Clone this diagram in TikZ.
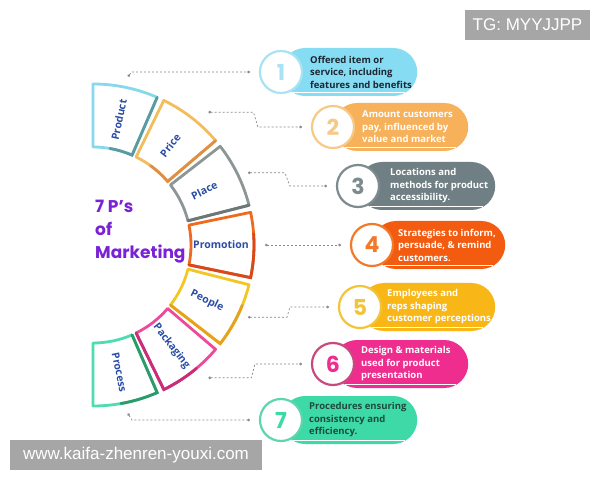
\documentclass[tikz,border=0pt]{standalone}
\usepackage{fontspec}
\setmainfont{Open Sans}
\newfontfamily\titlefont{Poppins}
\newfontfamily\wmfont{Liberation Sans}
\usetikzlibrary{arrows.meta}

\definecolor{labelblue}{HTML}{2A4DA6}
\definecolor{titlepurple}{HTML}{7A22D6}
\definecolor{connGray}{HTML}{8A8A8A}
\definecolor{wmGray}{HTML}{A6A6A6}
\definecolor{prodLight}{HTML}{86D9EC}
\definecolor{prodDark}{HTML}{5B9B9F}
\definecolor{priceLight}{HTML}{F4BD5C}
\definecolor{priceDark}{HTML}{E08E45}
\definecolor{placeLight}{HTML}{8C9696}
\definecolor{placeDark}{HTML}{6D7777}
\definecolor{promoLight}{HTML}{EF6A1F}
\definecolor{promoDark}{HTML}{D9481A}
\definecolor{peopleLight}{HTML}{F4C623}
\definecolor{peopleDark}{HTML}{E5A21C}
\definecolor{packLight}{HTML}{EE4A9A}
\definecolor{packDark}{HTML}{C92D78}
\definecolor{procLight}{HTML}{4FDCB0}
\definecolor{procDark}{HTML}{2E9A6C}
\definecolor{bodyA}{HTML}{86DCF2}
\definecolor{bodyB}{HTML}{F6B15A}
\definecolor{bodyC}{HTML}{6F7F83}
\definecolor{bodyD}{HTML}{F35B10}
\definecolor{bodyE}{HTML}{F8B716}
\definecolor{bodyF}{HTML}{EE2D8F}
\definecolor{bodyG}{HTML}{3DDAA8}
\definecolor{ringA}{HTML}{A9E2F2}
\definecolor{ringB}{HTML}{F7C987}
\definecolor{ringC}{HTML}{7D8B8E}
\definecolor{ringD}{HTML}{F07A2A}
\definecolor{ringE}{HTML}{F2C43A}
\definecolor{ringF}{HTML}{C9497E}
\definecolor{ringG}{HTML}{5FD5AD}
\definecolor{darktext}{HTML}{1B2733}
\definecolor{greentext}{HTML}{1E4A3C}

\begin{document}
\begin{tikzpicture}[x=1pt,y=1pt,
  seg/.style={line width=2.8pt, fill=white, line join=round},
  segedge/.style={line width=2.8pt, line cap=round},
  seglabel/.style={text=labelblue, inner sep=0pt, font=\bfseries\fontsize{10.5}{12}\selectfont},
  conn/.style={draw=connGray, line width=0.7pt, dash pattern=on 2pt off 2pt, {Circle[length=2.6pt]}-{Circle[length=2.6pt]}},
  pill/.style={rounded corners=24pt, minimum width=#1, minimum height=48pt, anchor=west, inner sep=0pt},
  numc/.style={circle, fill=white, line width=2.2pt, minimum size=42pt, inner sep=0pt, font=\titlefont\bfseries\fontsize{22}{22}\selectfont},
  rim/.style={white, line width=0.8pt},
  desc/.style={anchor=west, align=left, inner sep=0pt, font=\bfseries\fontsize{9.5}{12.5}\selectfont},
  titletext/.style={anchor=base west, inner sep=0pt, text=titlepurple, font=\titlefont\bfseries\fontsize{17}{20}\selectfont},
  wmbox/.style={fill=wmGray, text=white, inner sep=0pt, font=\wmfont\fontsize{17}{18}\selectfont}
]
\path[use as bounding box, fill=white] (0,0) rectangle (600,480);

\begin{scope}[shift={(93,235)}]
\draw[seg, draw=prodLight] (90:98) -- (90:161) arc[start angle=90, end angle=66.5, radius=161] -- (66.5:98) arc[start angle=66.5, end angle=90, radius=98] -- cycle;
\draw[segedge, draw=prodDark] (66.5:161) -- (66.5:98) arc[start angle=66.5, end angle=80, radius=98];
\node[seglabel, rotate=78.3] (lProduct) at (78.3:128) {Product};

\draw[seg, draw=priceLight] (63.9:98) -- (63.9:161) arc[start angle=63.9, end angle=40.4, radius=161] -- (40.4:98) arc[start angle=40.4, end angle=63.9, radius=98] -- cycle;
\draw[segedge, draw=priceDark] (40.4:161) -- (40.4:98) arc[start angle=40.4, end angle=54, radius=98];
\node[seglabel, rotate=52.2] (lPrice) at (52.2:126) {Price};

\draw[seg, draw=placeLight] (37.8:98) -- (37.8:161) arc[start angle=37.8, end angle=14.3, radius=161] -- (14.3:98) arc[start angle=14.3, end angle=37.8, radius=98] -- cycle;
\draw[segedge, draw=placeDark] (14.3:161) -- (14.3:98);
\node[seglabel, rotate=26.1] (lPlace) at (26.1:124) {Place};

\draw[seg, draw=promoLight] (11.7:98) -- (11.7:161) arc[start angle=11.7, end angle=-11.7, radius=161] -- (-11.7:98) arc[start angle=-11.7, end angle=11.7, radius=98] -- cycle;
\draw[segedge, draw=promoDark] (4:161) arc[start angle=4, end angle=-11.7, radius=161] -- (-11.7:98);
\node[seglabel] (lPromotion) at (0:128) {Promotion};

\draw[seg, draw=peopleLight] (-14.3:98) -- (-14.3:161) arc[start angle=-14.3, end angle=-37.8, radius=161] -- (-37.8:98) arc[start angle=-37.8, end angle=-14.3, radius=98] -- cycle;
\draw[segedge, draw=peopleDark] (-22:161) arc[start angle=-22, end angle=-37.8, radius=161] -- (-37.8:98);
\node[seglabel, rotate=-26.1] (lPeople) at (-26.1:127) {People};

\draw[seg, draw=packLight] (-40.4:98) -- (-40.4:161) arc[start angle=-40.4, end angle=-63.9, radius=161] -- (-63.9:98) arc[start angle=-63.9, end angle=-40.4, radius=98] -- cycle;
\draw[segedge, draw=packDark] (-50:161) arc[start angle=-50, end angle=-63.9, radius=161] -- (-63.9:98);
\node[seglabel, rotate=-52.2] (lPackaging) at (-52.2:128) {Packaging};

\draw[seg, draw=procLight] (-66.5:98) -- (-66.5:161) arc[start angle=-66.5, end angle=-90, radius=161] -- (-90:98) arc[start angle=-90, end angle=-66.5, radius=98] -- cycle;
\draw[segedge, draw=procDark] (-66.5:98) -- (-66.5:161) arc[start angle=-66.5, end angle=-80, radius=161];
\node[seglabel, rotate=-78.3] (lProcess) at (-78.3:130) {Process};

\coordinate (p1) at (78.3:172);
\coordinate (p2) at (49:176);
\coordinate (p3) at (25:171);
\coordinate (p4) at (0:172);
\coordinate (p5) at (-25:171);
\coordinate (p6) at (-49:176);
\coordinate (p7) at (-78.3:172);
\end{scope}

\node[titletext] (t7p) at (95,267) {7 P’s};
\node[titletext] (tof) at (95,244) {of};
\node[titletext] (tmk) at (95,221) {Marketing};

\node[pill=136pt, fill=bodyA] (b1) at (281,408) {};
\draw[rim] ([shift={(12,4)}]b1.south west) -- ([shift={(-12,4)}]b1.south east);
\node[numc, draw=ringA, text=ringA] (c1) at (281,408) {1};
\node[desc, text=darktext] (d1) at (310,408) {Offered item or\\service, including\\features and benefits};

\node[pill=135pt, fill=bodyB] (b2) at (333,353) {};
\draw[rim] ([shift={(12,4)}]b2.south west) -- ([shift={(-12,4)}]b2.south east);
\node[numc, draw=ringB, text=ringB] (c2) at (333,353) {2};
\node[desc, text=white] (d2) at (362,353) {Amount customers\\pay, influenced by\\value and market};

\node[pill=137pt, fill=bodyC] (b3) at (358,294) {};
\draw[rim] ([shift={(12,4)}]b3.south west) -- ([shift={(-12,4)}]b3.south east);
\node[numc, draw=ringC, text=ringC] (c3) at (358,294) {3};
\node[desc, text=white] (d3) at (390,294) {Locations and\\methods for product\\accessibility.};

\node[pill=133pt, fill=bodyD] (b4) at (372,235) {};
\draw[rim] ([shift={(12,4)}]b4.south west) -- ([shift={(-12,4)}]b4.south east);
\node[numc, draw=ringD, text=ringD] (c4) at (372,235) {4};
\node[desc, text=white] (d4) at (398,235) {Strategies to inform,\\persuade, \& remind\\customers.};

\node[pill=135pt, fill=bodyE] (b5) at (360,173) {};
\draw[rim] ([shift={(12,4)}]b5.south west) -- ([shift={(-12,4)}]b5.south east);
\node[numc, draw=ringE, text=ringE] (c5) at (360,173) {5};
\node[desc, text=white] (d5) at (387,173) {Employees and\\reps shaping\\customer perceptions.};

\node[pill=135pt, fill=bodyF] (b6) at (333,116) {};
\draw[rim] ([shift={(12,4)}]b6.south west) -- ([shift={(-12,4)}]b6.south east);
\node[numc, draw=ringF, text=bodyF] (c6) at (333,116) {6};
\node[desc, text=white] (d6) at (361,116) {Design \& materials\\used for product\\presentation};

\node[pill=136pt, fill=bodyG] (b7) at (281,60) {};
\draw[rim] ([shift={(12,4)}]b7.south west) -- ([shift={(-12,4)}]b7.south east);
\node[numc, draw=ringG, text=bodyG] (c7) at (281,60) {7};
\node[desc, text=greentext] (d7) at (309,60) {Procedures ensuring\\consistency and\\efficiency.};

\draw[conn] (p1) -- ++(4,4.6) -- ([xshift=-9pt]c1.west);
\draw[conn] (p2) -- ++(45,0) -- ([xshift=-53pt]c2.west) -- ([xshift=-9pt]c2.west);
\draw[conn] (p3) -- ++(37,0) -- ([xshift=-46pt]c3.west) -- ([xshift=-9pt]c3.west);
\draw[conn] (p4) -- ([xshift=-9pt]c4.west);
\draw[conn] (p5) -- ++(39,0) -- ([xshift=-48pt]c5.west) -- ([xshift=-9pt]c5.west);
\draw[conn] (p6) -- ++(43,0) -- ([xshift=-56pt]c6.west) -- ([xshift=-9pt]c6.west);
\draw[conn] (p7) -- ++(4,-6.6) -- ([xshift=-9pt]c7.west);

\node[wmbox, minimum width=125pt, minimum height=30pt] (tg) at (527.5,455) {TG: MYYJJPP};
\node[wmbox, minimum width=252pt, minimum height=30pt] (url) at (136,25) {www.kaifa-zhenren-youxi.com};
\end{tikzpicture}
\end{document}
